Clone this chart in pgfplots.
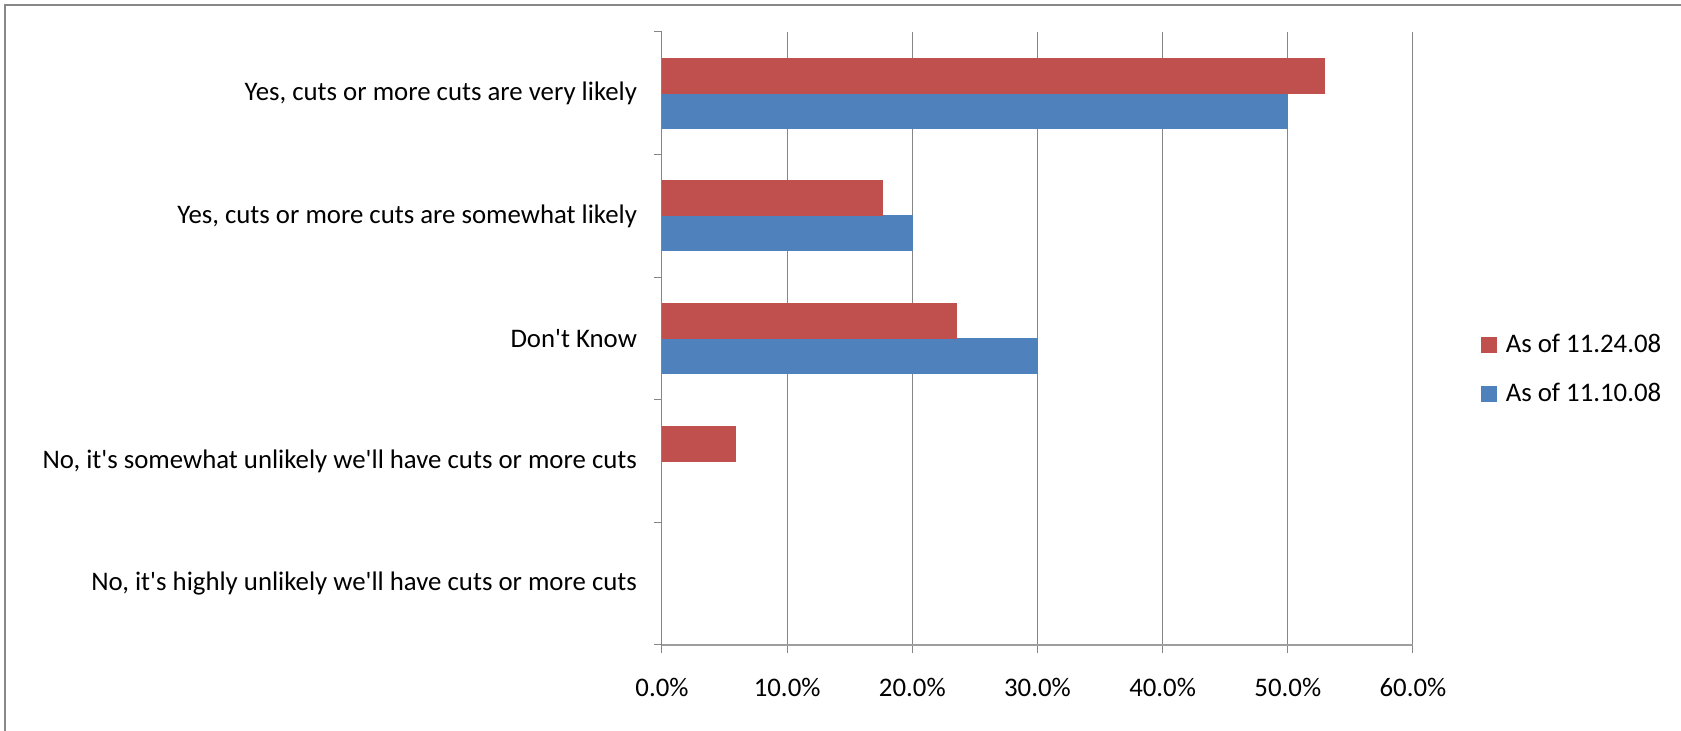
\documentclass[border=0pt]{standalone}
\usepackage{pgfplots}
\pgfplotsset{compat=1.18}
\usepackage{fontspec}
\setmainfont{Carlito}
\definecolor{cred}{HTML}{C0504D}
\definecolor{cblue}{HTML}{4F81BD}
\definecolor{cgrid}{HTML}{868686}
\definecolor{cframe}{HTML}{888888}
\newcommand{\q}{\textquotesingle}
\begin{document}
\begin{tikzpicture}[font=\fontsize{13.4}{16}\selectfont]
\path[use as bounding box] (-331pt,-43pt) rectangle (509.5pt,322.5pt);
\draw[cframe, line width=1.25pt] (-328.5pt,-60pt) -- (-328.5pt,320pt) -- (530pt,320pt);
\begin{axis}[
  at={(0,0)}, anchor=south west,
  scale only axis,
  width=375.5pt, height=306.5pt,
  xbar=0pt, bar width=17.5pt,
  xmin=0, xmax=60,
  ymin=-0.5, ymax=4.5,
  axis x line=bottom, axis y line=left,
  axis line style={-},
  x axis line style={cgrid!80, line width=1pt},
  y axis line style={cgrid, line width=0.5pt},
  xtick={0,10,...,60},
  xticklabel={\pgfmathprintnumber[fixed,fixed zerofill,precision=1,assume math mode=true]{\tick}\%},
  xticklabel style={yshift=-9pt},
  ytick={-0.5,0.5,...,4.5},
  yticklabels={},
  extra y ticks={0,1,2,3,4},
  extra y tick labels={{No, it\q s highly unlikely we\q ll have cuts or more cuts},{No, it\q s somewhat unlikely we\q ll have cuts or more cuts},{Don\q t Know},{Yes, cuts or more cuts are somewhat likely},{Yes, cuts or more cuts are very likely}},
  extra y tick style={major tick length=0pt, yticklabel style={anchor=east, xshift=-9pt}},
  tick align=outside,
  major tick length=4pt,
  tick style={cgrid, line width=0.5pt},
  xmajorgrids,
  grid style={cgrid, line width=0.5pt},
  legend style={at={(1.0905,0.450)}, anchor=west, draw=none, fill=none, inner sep=0pt, outer sep=0pt, row sep=10pt, legend cell align=left, /tikz/every odd column/.append style={column sep=2.5pt}},
  legend image code/.code={\fill[#1] (0pt,-3.75pt) rectangle (7.5pt,3.75pt);},
  reverse legend,
]
\addplot[fill=cblue, draw=cblue] coordinates {(50,4) (20,3) (30,2)};
\addlegendentry{As of 11.10.08}
\addplot[fill=cred, draw=cred] coordinates {(52.9,4) (17.6,3) (23.5,2) (5.9,1)};
\addlegendentry{As of 11.24.08}
\end{axis}
\end{tikzpicture}
\end{document}
